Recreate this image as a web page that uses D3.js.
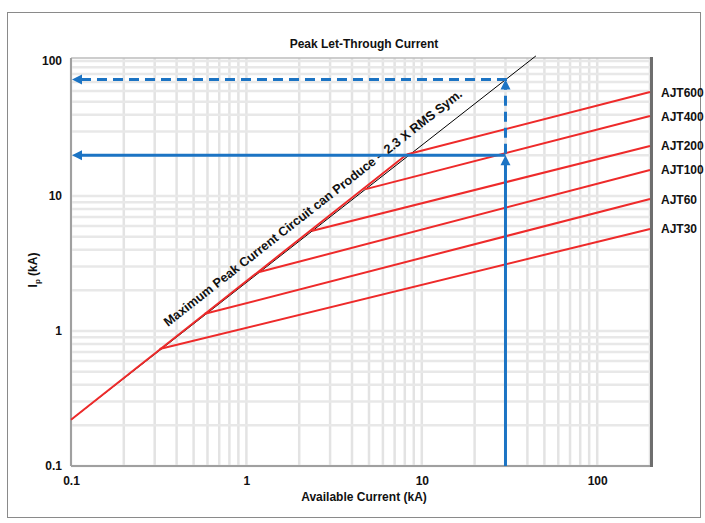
<!DOCTYPE html>
<html>
<head>
<meta charset="utf-8">
<script src="https://cdn.jsdelivr.net/npm/d3@7"></script>
<style>
  html, body { margin: 0; padding: 0; background: #fff; }
  svg { display: block; }
  text { font-family: "Liberation Sans", Arial, sans-serif; font-weight: bold; fill: #111; }
</style>
</head>
<body>
<svg id="chart" width="705" height="523"></svg>
<script>
// ---- data ----
const title = "Peak Let-Through Current";
const xLabel = "Available Current (kA)";
const xTicks = [0.1, 1, 10, 100];
const yTicks = [0.1, 1, 10, 100];
const xTickLabels = ["0.1", "1", "10", "100"];
const yTickLabels = ["0.1", "1", "10", "100"];

// Maximum peak current line (2.3 x RMS sym.)
const maxPeakI = [0.1, 44.7];
const maxPeakIp = [0.22, 109];
const maxPeakText = "Maximum Peak Current Circuit can Produce \u2013 2.3 X RMS Sym.";

// red envelope along the diagonal, up to the AJT600 knee
const envelopeI = [0.1, 8.2];
const envelopeIp = [0.22, 20.3];

// fuse let-through curves
const fuseNames = ["AJT30", "AJT60", "AJT100", "AJT200", "AJT400", "AJT600"];
const fuseStartI = [0.32, 0.58, 1.17, 2.35, 4.73, 8.2];
const fuseStartIp = [0.735, 1.34, 2.72, 5.5, 11.2, 20.3];
const fuseEndI = [200, 200, 200, 200, 200, 200];
const fuseEndIp = [5.7, 9.5, 15.6, 23.5, 39.1, 58.9];

// example arrows
const arrowI = 30;
const arrowMaxIp = 73;
const arrowFuseIp = 20;

// ---- drawing ----
const svg = d3.select("#chart");
const x = d3.scaleLog().domain([0.1, 200]).range([71, 650]);
const y = d3.scaleLog().domain([0.1, 100]).range([466, 61]);
const [x0, x1] = x.range();
const [yb, yt] = y.range();

// outer frame
svg.append("rect").attr("x", 7.5).attr("y", 12.5).attr("width", 693).attr("height", 505)
  .attr("fill", "none").attr("stroke", "#8a8a8a").attr("stroke-width", 1);

// grid values
function minorValues(dom) {
  const out = [];
  for (let d = 0.1; d <= dom[1] * 1.0001; d *= 10) {
    for (let k = 1; k <= 9; k++) {
      const v = +(k * d).toPrecision(3);
      if (v >= dom[0] * 0.9999 && v <= dom[1] * 1.0001) out.push(v);
    }
  }
  return out;
}
const gx = minorValues(x.domain());
const gy = minorValues(y.domain());

const grid = svg.append("g");
grid.selectAll("line.v").data(gx).join("line")
  .attr("x1", d => x(d)).attr("x2", d => x(d))
  .attr("y1", yt - 3).attr("y2", yb)
  .attr("stroke", "#e3e3e3").attr("stroke-width", 2.5);
grid.selectAll("line.h").data(gy).join("line")
  .attr("y1", d => y(d)).attr("y2", d => y(d))
  .attr("x1", x0).attr("x2", x1)
  .attr("stroke", "#e8e8e8").attr("stroke-width", 2.5);

// plot borders
svg.append("line").attr("x1", x0).attr("x2", x1 + 1).attr("y1", yt - 3).attr("y2", yt - 3)
  .attr("stroke", "#bdbdbd").attr("stroke-width", 1.5);
svg.append("line").attr("x1", x0).attr("x2", x0).attr("y1", yt - 3).attr("y2", yb)
  .attr("stroke", "#a0a0a0").attr("stroke-width", 2);
svg.append("line").attr("x1", x0).attr("x2", x1).attr("y1", yb).attr("y2", yb)
  .attr("stroke", "#a0a0a0").attr("stroke-width", 2);
svg.append("line").attr("x1", x1 + 1.5).attr("x2", x1 + 1.5).attr("y1", yt - 4).attr("y2", yb + 1)
  .attr("stroke", "#6e6e6e").attr("stroke-width", 3);

// axes tick labels
const xAxis = d3.axisBottom(x).tickValues(xTicks).tickFormat((d, i) => xTickLabels[i]).tickSize(0).tickPadding(10);
const xg = svg.append("g").attr("transform", `translate(0,${yb})`).call(xAxis);
xg.select(".domain").remove();
xg.selectAll("text").attr("font-size", 12).attr("font-family", "Liberation Sans, Arial, sans-serif")
  .attr("font-weight", "bold").attr("fill", "#111");

const yAxis = d3.axisLeft(y).tickValues(yTicks).tickFormat((d, i) => yTickLabels[i]).tickSize(0).tickPadding(9);
const yg = svg.append("g").attr("transform", `translate(${x0},0)`).call(yAxis);
yg.select(".domain").remove();
yg.selectAll("text").attr("font-size", 12).attr("font-family", "Liberation Sans, Arial, sans-serif")
  .attr("font-weight", "bold").attr("fill", "#111");

// title and axis labels
svg.append("text").attr("x", 364).attr("y", 48).attr("text-anchor", "middle")
  .attr("font-size", 12).text(title);
svg.append("text").attr("x", 364).attr("y", 501).attr("text-anchor", "middle")
  .attr("font-size", 12).text(xLabel);
const yl = svg.append("text").attr("transform", "translate(37,270) rotate(-90)")
  .attr("text-anchor", "middle").attr("font-size", 12);
yl.append("tspan").text("I");
yl.append("tspan").attr("font-size", 8).attr("dy", 3).text("p");
yl.append("tspan").attr("dy", -3).text(" (kA)");

const line = d3.line().x(d => x(d[0])).y(d => y(d[1]));

// black max peak line
svg.append("path").datum(maxPeakI.map((v, i) => [v, maxPeakIp[i]]))
  .attr("d", line).attr("fill", "none").attr("stroke", "#000").attr("stroke-width", 1);

// red envelope
const red = "#ee2a2a";
svg.append("path").datum(envelopeI.map((v, i) => [v, envelopeIp[i]]))
  .attr("d", line).attr("fill", "none").attr("stroke", red).attr("stroke-width", 2);

// fuse curves
const fuses = fuseNames.map((n, i) => ({
  name: n, pts: [[fuseStartI[i], fuseStartIp[i]], [fuseEndI[i], fuseEndIp[i]]]
}));
svg.append("g").selectAll("path").data(fuses).join("path")
  .attr("d", d => line(d.pts)).attr("fill", "none").attr("stroke", red).attr("stroke-width", 2);
svg.append("g").selectAll("text").data(fuses).join("text")
  .attr("x", 661).attr("y", d => y(d.pts[1][1]) + 4.5)
  .attr("font-size", 12).text(d => d.name);

// rotated text along the diagonal
svg.append("text")
  .attr("transform", "translate(168,327) rotate(-38.1)")
  .attr("font-size", 12.8)
  .attr("textLength", 375).attr("lengthAdjust", "spacingAndGlyphs")
  .text(maxPeakText);

// arrows
const blue = "#1c74c4";
function arrowHead(g, px, py, dir) {
  const L = 10, W = 5;
  let pts;
  if (dir === "left") pts = [[px, py], [px + L, py - W], [px + L, py + W]];
  else pts = [[px, py], [px - W, py + L], [px + W, py + L]];
  g.append("polygon").attr("points", pts.map(p => p.join(",")).join(" ")).attr("fill", blue);
}
const ag = svg.append("g");
const ax = x(arrowI);
// solid
ag.append("line").attr("x1", ax).attr("x2", ax).attr("y1", yb).attr("y2", y(arrowFuseIp) + 8)
  .attr("stroke", blue).attr("stroke-width", 3);
arrowHead(ag, ax, y(arrowFuseIp), "up");
ag.append("line").attr("x1", ax).attr("x2", x0 + 8).attr("y1", y(arrowFuseIp)).attr("y2", y(arrowFuseIp))
  .attr("stroke", blue).attr("stroke-width", 3);
arrowHead(ag, x0 + 1, y(arrowFuseIp), "left");
// dashed
ag.append("line").attr("x1", ax).attr("x2", ax).attr("y1", y(arrowFuseIp) - 1.5).attr("y2", y(arrowMaxIp) + 8)
  .attr("stroke", blue).attr("stroke-width", 3).attr("stroke-dasharray", "10,6");
arrowHead(ag, ax, y(arrowMaxIp), "up");
ag.append("line").attr("x1", ax + 1.5).attr("x2", x0 + 8).attr("y1", y(arrowMaxIp)).attr("y2", y(arrowMaxIp))
  .attr("stroke", blue).attr("stroke-width", 3).attr("stroke-dasharray", "10,6");
arrowHead(ag, x0 + 1, y(arrowMaxIp), "left");
</script>
</body>
</html>
